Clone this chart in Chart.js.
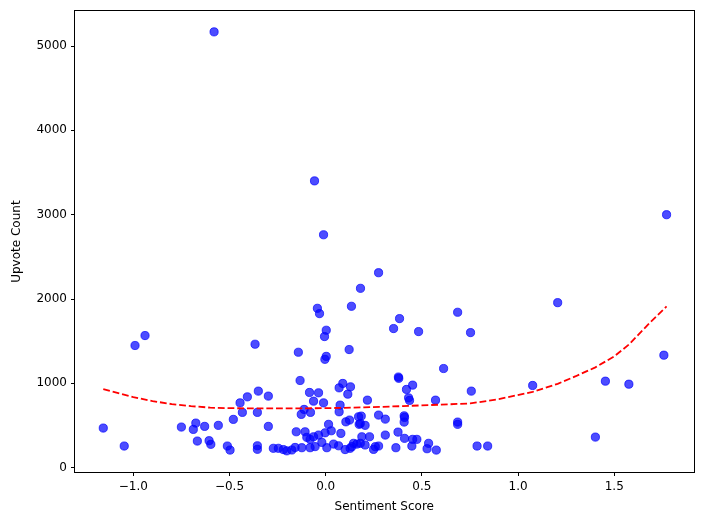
<!DOCTYPE html>
<html>
<head>
<meta charset="utf-8">
<script src="https://cdn.jsdelivr.net/npm/chart.js@4.4.1/dist/chart.umd.min.js"></script>
<style>
  html, body { margin: 0; padding: 0; background: #fff; }
  #chart { display: block; }
</style>
</head>
<body>
<canvas id="chart" width="704" height="525"></canvas>
<script>
// puntos
const sentimentScores = [
  -1.156, -1.047, -0.991, -0.939, -0.750, -0.688, -0.675, -0.667, -0.629, -0.606,
  -0.597, -0.580, -0.558, -0.511, -0.497, -0.480, -0.445, -0.433, -0.407, -0.367,
  -0.355, -0.350, -0.355, -0.355, -0.298, -0.298, -0.272, -0.246, -0.220, -0.202,
  -0.176, -0.159, -0.124, -0.153, -0.107, -0.142, -0.133, -0.127, -0.112, -0.084,
  -0.079, -0.063, -0.081, -0.063, -0.037, -0.037, -0.058, -0.043, -0.032, -0.011,
  -0.011, -0.006, 0.003, 0.003, -0.004, -0.003, 0.015, 0.029, 0.070, 0.089,
  0.129, 0.115, 0.070, 0.075, 0.124, 0.105, 0.079, 0.122, 0.134, 0.181,
  0.275, 0.171, 0.174, -0.081, -0.055, -0.020, 0.006, 0.041, 0.067, 0.101,
  0.136, 0.162, 0.127, 0.145, 0.180, 0.205, 0.258, 0.275, 0.249, 0.188,
  0.228, 0.185, 0.180, 0.205, 0.217, 0.275, 0.310, 0.310, 0.353, 0.384,
  0.365, 0.376, 0.378, 0.380, 0.408, 0.410, 0.408, 0.410, 0.420, 0.431,
  0.436, 0.452, 0.452, 0.474, 0.448, 0.483, 0.527, 0.535, 0.575, 0.571,
  0.613, 0.686, 0.686, 0.686, 0.753, 0.757, 0.787, 0.842, 1.076, 1.206,
  1.402, 1.454, 1.576, 1.758, 1.772, -0.098
];
const upvoteCounts = [
  470, 257, 1449, 1567, 482, 454, 529, 316, 490, 320,
  277, 5168, 502, 257, 209, 573, 769, 656, 840, 1464,
  656, 908, 260, 218, 849, 490, 230, 230, 215, 200,
  210, 240, 237, 426, 426, 1369, 1034, 632, 691, 892,
  656, 789, 336, 367, 387, 888, 3401, 1890, 1827, 2762,
  769, 1555, 1630, 1320, 1285, 414, 514, 438, 947, 999,
  959, 872, 663, 742, 565, 544, 407, 1401, 1914, 2127,
  2312, 604, 514, 237, 250, 300, 237, 280, 260, 215,
  250, 280, 230, 289, 289, 269, 249, 257, 217, 367,
  367, 612, 525, 502, 801, 624, 576, 387, 1650, 1768,
  237, 422, 1075, 1060, 615, 596, 541, 348, 928, 828,
  798, 979, 336, 336, 257, 1614, 225, 289, 209, 801,
  1176, 1843, 541, 514, 1602, 908, 257, 257, 975, 1957,
  363, 1026, 990, 1334, 3000, 360
];

// linea de tendencia
const trendX = [-1.156, -1.0, -0.9, -0.8, -0.7, -0.6, -0.5, -0.4, -0.2, 0.0, 0.2, 0.4, 0.6, 0.752, 0.9, 1.076, 1.206, 1.3, 1.402, 1.5, 1.576, 1.688, 1.758, 1.772];
const trendY = [931, 837, 790, 754, 730, 712, 706, 703, 703, 706, 715, 730, 748, 762, 813, 899, 995, 1085, 1190, 1320, 1460, 1725, 1880, 1912];

const xTicks = [-1.0, -0.5, 0.0, 0.5, 1.0, 1.5];
const yTicks = [0, 1000, 2000, 3000, 4000, 5000];

Chart.defaults.font.family = "'DejaVu Sans', sans-serif";
Chart.defaults.font.size = 12;
Chart.defaults.color = "#000";

// marco negro alrededor del area del grafico
const framePlugin = {
    id: "frame",
    afterDraw(chart) {
        const { ctx, chartArea: a } = chart;
        ctx.save();
        ctx.strokeStyle = "#000";
        ctx.lineWidth = 1;
        ctx.strokeRect(Math.round(a.left) - 0.5, Math.round(a.top) - 0.5,
            Math.round(a.right - a.left) + 1, Math.round(a.bottom - a.top) + 1);
        ctx.restore();
    },
};

const points = sentimentScores.map((x, i) => ({ x: x, y: upvoteCounts[i] }));
const trend = trendX.map((x, i) => ({ x: x, y: trendY[i] }));

const ctx = document.getElementById("chart").getContext("2d");
new Chart(ctx, {
    type: "scatter",
    data: {
        datasets: [
            {
                type: "line",
                data: trend,
                borderColor: "#ff0000",
                borderWidth: 1.8,
                borderDash: [6.8, 2.9],
                pointRadius: 0,
                fill: false,
                tension: 0,
            },
            {
                data: points,
                backgroundColor: "rgba(0, 0, 255, 0.7)",
                borderColor: "rgba(0, 0, 255, 0.7)",
                borderWidth: 1,
                pointRadius: 4.1,
            },
        ],
    },
    options: {
        responsive: false,
        animation: false,
        layout: { padding: { left: 0, right: 10.5, top: 10, bottom: 0 } },
        plugins: {
            legend: { display: false },
            tooltip: { enabled: false },
        },
        scales: {
            x: {
                type: "linear",
                min: -1.303,
                max: 1.912,
                afterBuildTicks: (scale) => {
                    scale.ticks = xTicks.map((v) => ({ value: v }));
                },
                afterFit: (scale) => {
                    scale.height = 53;
                },
                ticks: {
                    padding: 4,
                    callback: (v) => (v < 0 ? "\u2212" : "") + Math.abs(v).toFixed(1),
                },
                grid: { drawOnChartArea: false, tickLength: 4, tickColor: "#000" },
                border: { display: false },
                title: {
                    display: true,
                    text: "Sentiment Score",
                    padding: { top: 0, bottom: 11 },
                },
            },
            y: {
                min: -51,
                max: 5413,
                afterBuildTicks: (scale) => {
                    scale.ticks = yTicks.map((v) => ({ value: v }));
                },
                afterFit: (scale) => {
                    scale.width = 75;
                },
                ticks: {
                    padding: 4,
                    callback: (v) => String(v),
                },
                grid: { drawOnChartArea: false, tickLength: 4, tickColor: "#000" },
                border: { display: false },
                title: {
                    display: true,
                    text: "Upvote Count",
                    padding: { top: 10, bottom: 0 },
                },
            },
        },
    },
    plugins: [framePlugin],
});
</script>
</body>
</html>
